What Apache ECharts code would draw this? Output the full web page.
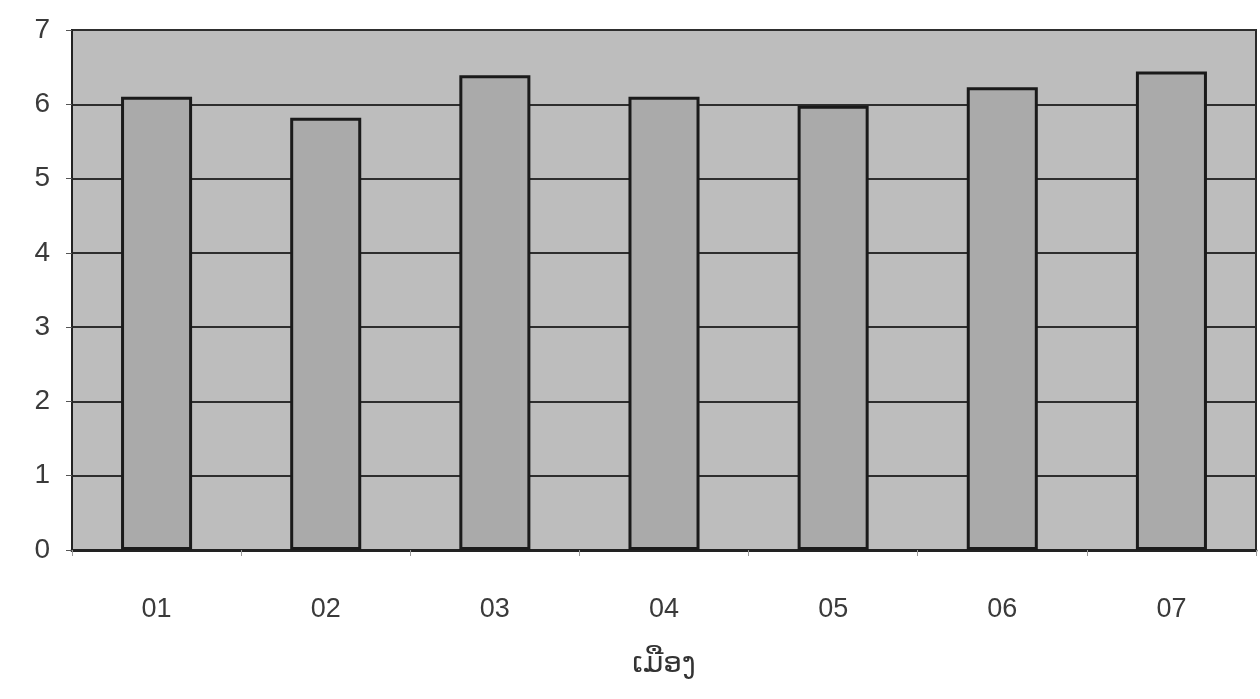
<!DOCTYPE html>
<html>
<head>
<meta charset="utf-8">
<script src="https://cdn.jsdelivr.net/npm/echarts@6/dist/echarts.min.js"></script>
<style>
html,body{margin:0;padding:0;background:#fff;}
#chart{width:1260px;height:699px;}
</style>
</head>
<body>
<div id="chart"></div>
<script>
const categories = ['01', '02', '03', '04', '05', '06', '07'];
const values = [6.10, 5.82, 6.39, 6.10, 5.98, 6.23, 6.44];
const yTicks = { min: 0, max: 7, interval: 1 };
const xAxisTitle = 'ເມືອງ';

const chart = echarts.init(document.getElementById('chart'), null, { renderer: 'canvas' });
chart.setOption({
  backgroundColor: '#ffffff',
  animation: false,
  grid: { left: 72, right: 4, top: 30, bottom: 149, show: true, backgroundColor: '#bdbdbd', borderColor: '#2a2a2a', borderWidth: 2 },
  xAxis: {
    type: 'category',
    data: categories,
    name: xAxisTitle,
    nameLocation: 'middle',
    nameGap: 100,
    nameTextStyle: { fontFamily: 'DejaVu Sans, Noto Sans, sans-serif', fontSize: 29, color: '#333' },
    axisLine: { show: true, lineStyle: { color: '#222', width: 3 } },
    axisTick: { show: true, alignWithLabel: false, length: 6, lineStyle: { color: '#999', width: 1 } },
    axisLabel: { margin: 46, fontFamily: 'Liberation Sans, Arial, sans-serif', fontSize: 27, color: '#3a3a3a' },
    splitLine: { show: false }
  },
  yAxis: {
    type: 'value',
    min: yTicks.min,
    max: yTicks.max,
    interval: yTicks.interval,
    axisLine: { show: true, lineStyle: { color: '#222', width: 2 } },
    axisTick: { show: true, length: 6, lineStyle: { color: '#555', width: 1 } },
    axisLabel: { margin: 22, fontFamily: 'Liberation Sans, Arial, sans-serif', fontSize: 28, color: '#3a3a3a' },
    splitLine: { show: true, lineStyle: { color: '#2e2e2e', width: 2 } }
  },
  series: [{
    type: 'bar',
    data: values,
    barWidth: '42%',
    itemStyle: { color: '#aaaaaa', borderColor: '#1a1a1a', borderWidth: 3 }
  }]
});
</script>
</body>
</html>
